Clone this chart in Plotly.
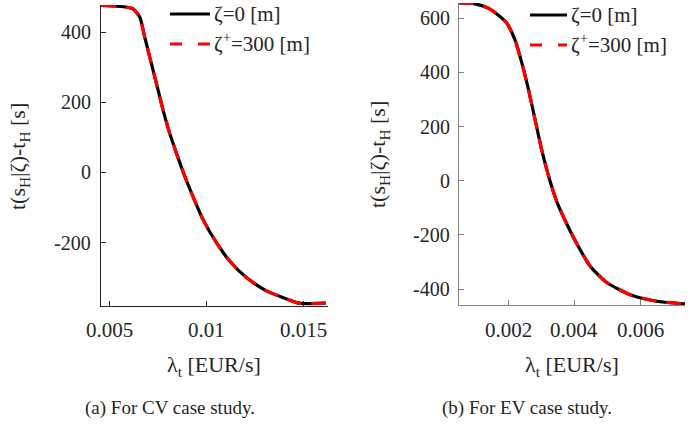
import plotly.graph_objects as go

# ---- data ----
cv_lambda = [0.00454, 0.0055, 0.0062, 0.00655, 0.0068, 0.00706, 0.00741, 0.00775, 0.00809,
             0.00844, 0.00887, 0.00929, 0.00981, 0.0105, 0.01119, 0.01205, 0.01308, 0.01411,
             0.01479, 0.01617]
cv_dt = [477, 474, 467, 443, 387, 330, 254, 179, 113, 56, -10, -67, -133, -199, -252, -299,
         -337, -360, -373, -373]

ev_lambda = [0.000497, 0.001, 0.0014, 0.0017, 0.00196, 0.00221, 0.00242, 0.00262, 0.00282,
             0.00302, 0.00327, 0.0035, 0.00378, 0.00408, 0.00449, 0.00499, 0.0057, 0.00651,
             0.00736]
ev_dt = [656, 653, 637, 612, 582, 520, 434, 336, 225, 114, 0, -85, -160, -232, -316, -376,
         -421, -445, -455]

cv_xticks = [0.005, 0.01, 0.015]
cv_xticklabels = ["0.005", "0.01", "0.015"]
cv_yticks = [-200, 0, 200, 400]
cv_yticklabels = ["-200", "0", "200", "400"]
ev_xticks = [0.002, 0.004, 0.006]
ev_xticklabels = ["0.002", "0.004", "0.006"]
ev_yticks = [-400, -200, 0, 200, 400, 600]
ev_yticklabels = ["-400", "-200", "0", "200", "400", "600"]

name_a = "ζ=0 [m]"
name_b = "ζ<sup>+</sup>=300 [m]"
x_title = "λ<sub>t</sub> [EUR/s]"
y_title = "t(s<sub>H</sub>|ζ)-t<sub>H</sub> [s]"
captions = ["(a) For CV case study.", "(b) For EV case study."]

W, H = 690, 427
SERIF = "serif"
TXT = "#262626"

fig = go.Figure()

def add_pair(x, y, xa, ya):
    fig.add_trace(go.Scatter(x=x, y=y, mode="lines", name=name_a, xaxis=xa, yaxis=ya,
                             showlegend=False,
                             line=dict(color="black", width=3.2, shape="spline", smoothing=0.6)))
    fig.add_trace(go.Scatter(x=x, y=y, mode="lines", name=name_b, xaxis=xa, yaxis=ya,
                             showlegend=False,
                             line=dict(color="#ff0000", width=3.2, dash="15px,10px",
                                       shape="spline", smoothing=0.6)))

add_pair(cv_lambda, cv_dt, "x", "y")
add_pair(ev_lambda, ev_dt, "x2", "y2")

def ax(domain, rng, tv, lc, anchor):
    return dict(domain=domain, range=rng, tickvals=tv, showticklabels=False, ticks="inside",
                ticklen=5, tickcolor=lc, showline=True, linecolor=lc, linewidth=1, mirror=False,
                showgrid=False, zeroline=False, automargin=False, anchor=anchor)

fig.update_layout(
    width=W, height=H, margin=dict(l=0, r=0, t=0, b=0),
    paper_bgcolor="white", plot_bgcolor="white", showlegend=False,
    xaxis=ax([101 / W, 328 / W], [0.00454, 0.01629], cv_xticks, "#262626", "y"),
    yaxis=ax([1 - 306 / H, 1 - 5 / H], [-381, 478], cv_yticks, "#262626", "x"),
    xaxis2=ax([459 / W, 685 / W], [0.000515, 0.00736], ev_xticks, "#808080", "y2"),
    yaxis2=ax([1 - 305 / H, 1 - 3 / H], [-459, 656], ev_yticks, "#808080", "x2"),
)

def txt(text, x, y, size, xref="paper", yref="paper", xanchor="center", yanchor="middle",
        angle=0):
    fig.add_annotation(text=text, x=x, y=y, xref=xref, yref=yref, showarrow=False,
                       xanchor=xanchor, yanchor=yanchor, textangle=angle,
                       font=dict(family=SERIF, size=size, color=TXT))

panels = [
    ("x", "y", cv_xticks, cv_xticklabels, cv_yticks, cv_yticklabels, 93, 214, 19, 157),
    ("x2", "y2", ev_xticks, ev_xticklabels, ev_yticks, ev_yticklabels, 452, 572, 379, 155),
]
for xr, yr, xt, xl, yt, yl, ylab_x, xtitle_x, ytitle_x, ytitle_y in panels:
    for v, s in zip(xt, xl):
        txt(s, v, 1 - 330 / H, 21, xref=xr)
    for v, s in zip(yt, yl):
        txt(s, ylab_x / W, v, 20, yref=yr, xanchor="right")
    txt(x_title, xtitle_x / W, 1 - 366 / H, 22)
    txt(y_title, ytitle_x / W, 1 - ytitle_y / H, 22, angle=-90)

for cx, cap in zip([170, 527], captions):
    txt(cap, cx / W, 1 - 408 / H, 19)

for lx0, lx1, ty in [(170, 210, 14), (530, 567, 15)]:
    fig.add_shape(type="line", xref="paper", yref="paper", x0=lx0 / W, x1=lx1 / W,
                  y0=1 - ty / H, y1=1 - ty / H, line=dict(color="black", width=3.2))
    fig.add_shape(type="line", xref="paper", yref="paper", x0=lx0 / W, x1=lx1 / W,
                  y0=1 - (ty + 30) / H, y1=1 - (ty + 30) / H,
                  line=dict(color="#ff0000", width=3.2, dash="12px,16px"))
    txt(name_a, (lx1 + 2) / W, 1 - ty / H, 21, xanchor="left")
    txt(name_b, (lx1 + 2) / W, 1 - (ty + 28) / H, 21, xanchor="left")

fig.write_html("out.html")
